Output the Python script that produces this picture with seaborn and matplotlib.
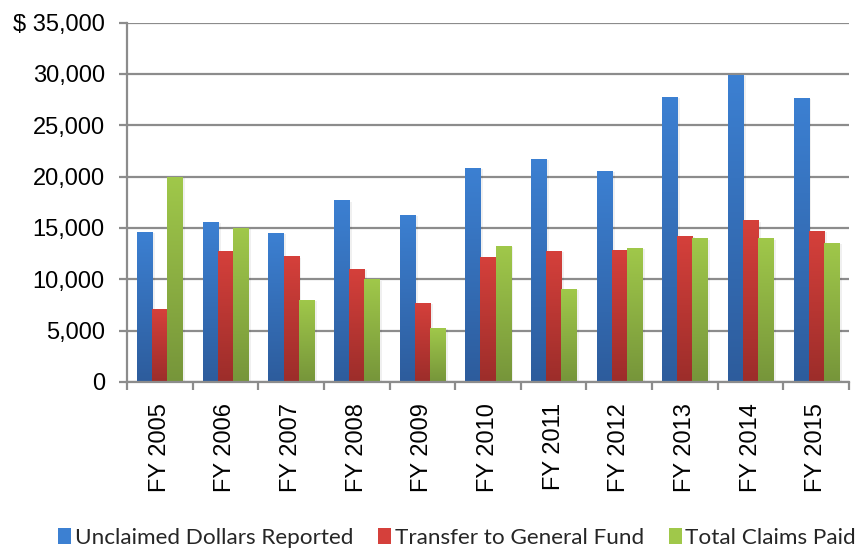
import numpy as np
import pandas as pd
import matplotlib
matplotlib.use("Agg")
import matplotlib.pyplot as plt
import matplotlib.patheffects as pe
from matplotlib.colors import LinearSegmentedColormap
from matplotlib.ticker import FixedLocator, FuncFormatter
from matplotlib.patches import Patch
import seaborn as sns

years = ["FY 2005", "FY 2006", "FY 2007", "FY 2008", "FY 2009", "FY 2010",
         "FY 2011", "FY 2012", "FY 2013", "FY 2014", "FY 2015"]
series_names = ["Unclaimed Dollars Reported", "Transfer to General Fund",
                "Total Claims Paid"]
unclaimed = [14600, 15600, 14500, 17700, 16300, 20850, 21750, 20550, 27750, 29900, 27650]
transfers = [7100, 12750, 12250, 11000, 7700, 12150, 12750, 12850, 14200, 15750, 14700]
claims_paid = [20000, 15000, 8000, 10000, 5250, 13250, 9050, 13050, 14000, 14000, 13550]
y_ticks = [0, 5000, 10000, 15000, 20000, 25000, 30000, 35000]

# light (top) / dark (bottom) shade of each series
shades = {
    series_names[0]: ("#3C80D2", "#2D5C9C"),
    series_names[1]: ("#D5403B", "#9C2D2A"),
    series_names[2]: ("#A0C84A", "#76953A"),
}

df = pd.DataFrame({
    "year": years * 3,
    "series": [series_names[0]] * len(years) + [series_names[1]] * len(years)
              + [series_names[2]] * len(years),
    "value": unclaimed + transfers + claims_paid,
})

sns.set_theme(style="white")
plt.rcParams["font.family"] = ["Liberation Sans", "DejaVu Sans"]

fig = plt.figure(figsize=(8.59, 5.48), dpi=100)
ax = fig.add_axes([127 / 859, 1 - 381.8 / 548, (849 - 127) / 859, (381.8 - 22.7) / 548])

palette = {k: v[0] for k, v in shades.items()}
sns.barplot(data=df, x="year", y="value", hue="series", hue_order=series_names,
            order=years, palette=palette, width=0.69, saturation=1,
            linewidth=0, legend=False, ax=ax, zorder=3)

# vertical gradient fill + faint shadow on each bar
grad = np.linspace(0, 1, 256).reshape(-1, 1)
for container, name in zip(ax.containers, series_names):
    top, bottom = shades[name]
    cmap = LinearSegmentedColormap.from_list(name, [bottom, top])
    for bar in container:
        x0, y0 = bar.get_x(), bar.get_y()
        w, h = bar.get_width(), bar.get_height()
        bar.set_path_effects([pe.SimplePatchShadow(offset=(2, -1), shadow_rgbFace="black",
                                                   alpha=0.06), pe.Normal()])
        im = ax.imshow(grad, cmap=cmap, aspect="auto", origin="lower",
                       extent=(x0, x0 + w, y0, y0 + h), zorder=4,
                       interpolation="bilinear")
        im.set_clip_path(bar)

ax.set_xlim(-0.5, len(years) - 0.5)
ax.set_ylim(0, 35000)

# grid and axes
grid_color = "#8C8C8C"
ax.yaxis.set_major_locator(FixedLocator(y_ticks))
ax.yaxis.set_major_formatter(FuncFormatter(
    lambda v, p: ("$ " if v == 35000 else "") + f"{int(v):,}"))
ax.grid(axis="y", color=grid_color, linewidth=1.6, zorder=1)
ax.grid(axis="x", visible=False)
for side in ("top", "right"):
    ax.spines[side].set_visible(False)
for side in ("left", "bottom"):
    ax.spines[side].set_color(grid_color)
    ax.spines[side].set_linewidth(1.6)
    ax.spines[side].set_zorder(5)

ax.tick_params(axis="y", which="major", left=True, length=6, width=1.6,
               color=grid_color, pad=10, labelsize=17, labelcolor="black")
ax.set_xticks(range(len(years)))
ax.set_xticklabels(years, rotation=90)
ax.set_xticks(np.arange(-0.5, len(years)), minor=True)
ax.tick_params(axis="x", which="major", bottom=True, length=0, pad=15,
               labelsize=17, labelcolor="black")
ax.tick_params(axis="x", which="minor", bottom=True, length=6, width=1.6,
               color=grid_color)
ax.set_xlabel("")
ax.set_ylabel("")

handles = [Patch(facecolor=shades[n][0], edgecolor="none") for n in series_names]
fig.legend(handles, series_names, loc="center", bbox_to_anchor=(0.532, 0.019),
           ncol=3, frameon=False, handlelength=0.6, handleheight=0.7,
           handletextpad=0.15, columnspacing=1.1,
           prop={"family": "Lato", "size": 16.2})

fig.savefig("out.png", dpi=100)
